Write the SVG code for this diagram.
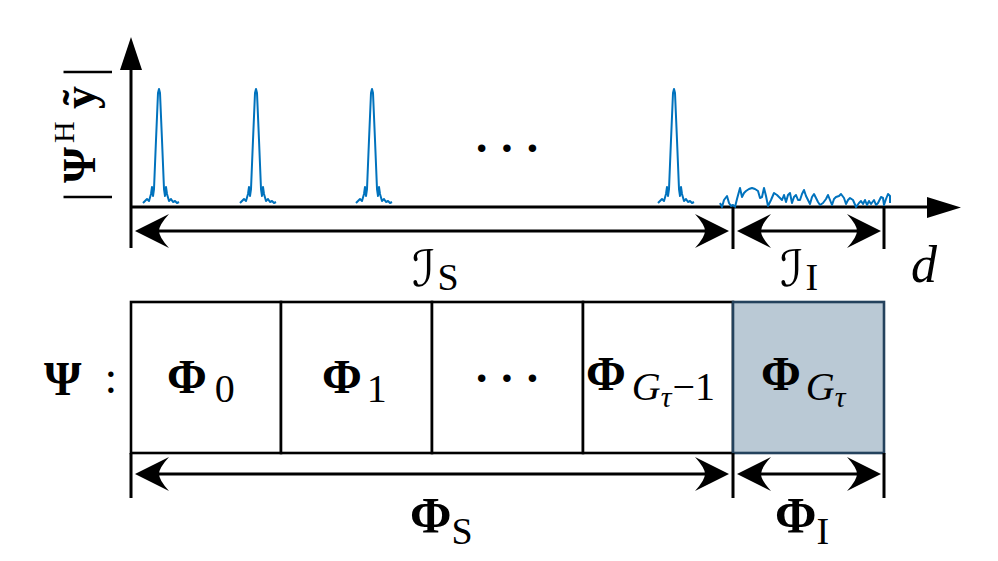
<svg xmlns="http://www.w3.org/2000/svg" width="998" height="561" viewBox="0 0 998 561">
<style>
.ax{stroke:#000;stroke-width:3;fill:none}
.box{fill:#fff;stroke:#000;stroke-width:2.6}
.hi{fill:#bac9d5;stroke:#24425d;stroke-width:2.6}
.sig{fill:none;stroke:#0072BD;stroke-width:2;stroke-linejoin:round}
.dim{stroke:#000;stroke-width:3;fill:none}
.tk{stroke:#000;stroke-width:3}
.m{font-family:"Liberation Serif","DejaVu Serif",serif;fill:#000}
.b{font-weight:bold}
.it{font-style:italic}
.cal{font-family:"DejaVu Serif","DejaVu Sans",serif}
.dots{font-weight:bold}
</style>
<defs>
<marker id="ah" viewBox="0 0 34 34" refX="24" refY="17" markerWidth="34" markerHeight="34" markerUnits="userSpaceOnUse" orient="auto-start-reverse">
<path d="M34,17 Q16,8 0,0 Q10,11 10,17 Q10,23 0,34 Q16,26 34,17 Z" fill="#000"/>
</marker>
<polyline id="pk" points="-16,203 -14,201 -12,199 -10,201 -8,194 -7,187 -6,196 -5,189 -3,140 -1,93 0,89 1,93 3,140 5,189 6,196 7,187 8,194 10,201 12,199 14,202 16,201 18,203 20,202"/>
</defs>

<g id="axes">
<line class="ax" x1="131" y1="66" x2="131" y2="248"/>
<path d="M131,37 L142,70 L120,70 Z" fill="#000"/>
<line class="ax" x1="131" y1="207" x2="930" y2="207"/>
<path d="M961,207.5 L927,197 L927,218 Z" fill="#000"/>
<g transform="translate(95,197) rotate(-90)">
<text class="m" x="0" y="6" font-size="52" text-anchor="middle">|</text>
<text class="m b" x="14" y="0" font-size="46">Ψ</text>
<text class="m" x="54" y="-21" font-size="30">H</text>
<text class="m b" x="88" y="0" font-size="46">ỹ</text>
<text class="m" x="125" y="6" font-size="52" text-anchor="middle">|</text>
</g>
</g>

<g id="signal">
<use href="#pk" class="sig" x="159"/>
<use href="#pk" class="sig" x="256"/>
<use href="#pk" class="sig" x="372"/>
<use href="#pk" class="sig" x="674"/>
<polyline class="sig" points="720,203 722,207 724,200 727,196 729,203 731,206 733,205 735,207 737,199 740,188 742,197 744,193 746,191 749,189 752,188 755,189 758,191 760,198 762,197 764,188 766,196 768,206 771,200 774,193 777,195 780,198 782,200 784,195 786,202 788,195 790,193 792,203 794,197 796,195 798,200 800,200 802,194 804,190 806,196 808,200 810,204 812,197 814,194 816,198 818,202 820,205 823,203 826,199 828,195 830,200 832,205 834,199 836,197 839,196 841,194 844,198 846,204 848,200 850,198 853,200 856,207 859,203 861,201 863,204 865,200 867,205 869,201 871,204 874,200 876,205 878,203 881,197 883,198 884,205 886,199 888,194 890,196 890,203"/>
<text class="m dots" x="512" y="164" font-size="46" text-anchor="middle" letter-spacing="10">···</text>
</g>

<g id="boxes">
<g id="phi0"><rect class="box" x="131" y="302" width="150" height="151"/>
<text class="m" x="167" y="393" font-size="48"><tspan class="b">Φ</tspan><tspan font-size="40" dy="9" dx="8">0</tspan></text></g>
<g id="phi1"><rect class="box" x="281" y="302" width="151" height="151"/>
<text class="m" x="322" y="393" font-size="48"><tspan class="b">Φ</tspan><tspan font-size="40" dy="9" dx="5">1</tspan></text></g>
<g id="phidots"><rect class="box" x="432" y="302" width="151" height="151"/>
<text class="m dots" x="512" y="394" font-size="46" text-anchor="middle" letter-spacing="10">···</text></g>
<g id="phiGm1"><rect class="box" x="583" y="302" width="150" height="151"/>
<text class="m" x="586" y="390" font-size="48"><tspan class="b">Φ</tspan><tspan class="it" font-size="40" dy="10" dx="6">G</tspan><tspan class="it" font-size="30" dy="7">τ</tspan><tspan font-size="40" dy="-7" dx="1">−1</tspan></text></g>
<g id="phiG"><rect class="hi" x="733" y="302" width="151" height="151"/>
<text class="m" x="761" y="390" font-size="48"><tspan class="b">Φ</tspan><tspan class="it" font-size="40" dy="10" dx="5">G</tspan><tspan class="it" font-size="30" dy="7">τ</tspan></text></g>
<g id="psi"><text class="m b" x="44" y="395" font-size="48">Ψ</text>
<text class="m" x="111" y="393" font-size="46" text-anchor="middle">:</text></g>
</g>

<g id="connectors">
<line class="tk" x1="733" y1="207" x2="733" y2="249"/>
<line class="tk" x1="884" y1="207" x2="884" y2="249"/>
<line class="dim" x1="145" y1="231" x2="719" y2="231" marker-start="url(#ah)" marker-end="url(#ah)"/>
<line class="dim" x1="747" y1="231" x2="871" y2="231" marker-start="url(#ah)" marker-end="url(#ah)"/>
<line class="tk" x1="131" y1="453" x2="131" y2="498"/>
<line class="tk" x1="733" y1="453" x2="733" y2="498"/>
<line class="tk" x1="884" y1="453" x2="884" y2="498"/>
<line class="dim" x1="145" y1="474" x2="719" y2="474" marker-start="url(#ah)" marker-end="url(#ah)"/>
<line class="dim" x1="747" y1="474" x2="871" y2="474" marker-start="url(#ah)" marker-end="url(#ah)"/>
</g>

<g id="labels">
<text class="m" x="412" y="286" font-size="50"><tspan class="cal">ℐ</tspan><tspan font-size="38" dy="4" dx="2">S</tspan></text>
<text class="m" x="780" y="286" font-size="50"><tspan class="cal">ℐ</tspan><tspan font-size="38" dy="4" dx="2">I</tspan></text>
<text class="m it" x="911" y="282" font-size="52">d</text>
<text class="m" x="410" y="532" font-size="50"><tspan class="b">Φ</tspan><tspan font-size="38" dy="12">S</tspan></text>
<text class="m" x="775" y="532" font-size="50"><tspan class="b">Φ</tspan><tspan font-size="38" dy="12">I</tspan></text>
</g>
</svg>
